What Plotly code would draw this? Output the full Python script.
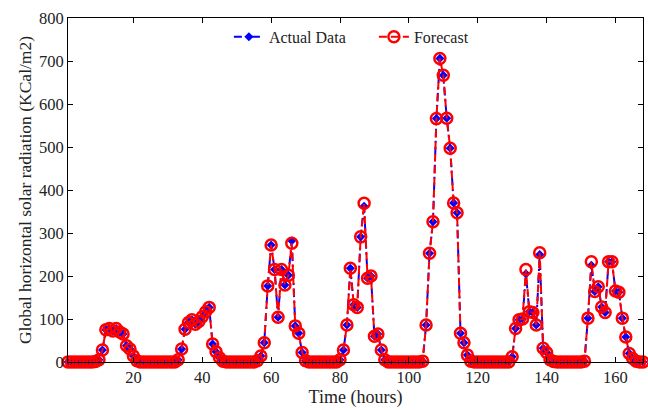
import plotly.graph_objects as go

hours = list(range(1, 169))

actual_day1 = [0, 0, 0, 0, 0, 0, 0, 0, 1, 5, 28, 75, 78, 72, 78, 70, 65, 38, 30, 14, 3, 0, 0, 0]
actual_day2 = [0, 0, 0, 0, 0, 0, 0, 0, 5, 30, 76, 92, 98, 88, 94, 105, 117, 127, 42, 24, 10, 2, 0, 0]
actual_day3 = [0, 0, 0, 0, 0, 0, 0, 3, 14, 45, 177, 272, 215, 104, 215, 179, 202, 282, 84, 67, 22, 3, 0, 0]
actual_day4 = [0, 0, 0, 0, 0, 0, 0, 5, 28, 86, 218, 133, 127, 291, 362, 195, 200, 60, 65, 28, 5, 0, 0, 0]
actual_day5 = [0, 0, 0, 0, 0, 0, 0, 2, 86, 253, 326, 566, 706, 667, 567, 497, 370, 347, 67, 45, 16, 2, 0, 0]
actual_day6 = [0, 0, 0, 0, 0, 0, 0, 0, 0, 12, 78, 98, 100, 205, 117, 115, 86, 250, 32, 22, 5, 1, 0, 0]
actual_day7 = [0, 0, 0, 0, 0, 0, 2, 102, 225, 164, 175, 128, 115, 233, 233, 165, 162, 102, 58, 20, 8, 2, 0, 0]

forecast_day1 = [0, 0, 0, 0, 0, 0, 0, 0, 1, 5, 28, 75, 78, 72, 78, 70, 65, 38, 30, 14, 3, 0, 0, 0]
forecast_day2 = [0, 0, 0, 0, 0, 0, 0, 0, 5, 30, 76, 92, 98, 88, 94, 105, 117, 127, 42, 24, 10, 2, 0, 0]
forecast_day3 = [0, 0, 0, 0, 0, 0, 0, 3, 14, 45, 177, 272, 215, 104, 215, 179, 202, 276, 84, 67, 22, 3, 0, 0]
forecast_day4 = [0, 0, 0, 0, 0, 0, 0, 5, 28, 86, 218, 133, 127, 291, 369, 195, 200, 60, 65, 28, 5, 0, 0, 0]
forecast_day5 = [0, 0, 0, 0, 0, 0, 0, 2, 86, 253, 326, 566, 706, 667, 567, 497, 370, 347, 67, 45, 16, 2, 0, 0]
forecast_day6 = [0, 0, 0, 0, 0, 0, 0, 0, 0, 12, 78, 98, 100, 215, 117, 115, 86, 254, 32, 22, 5, 1, 0, 0]
forecast_day7 = [0, 0, 0, 0, 0, 0, 2, 102, 233, 164, 175, 128, 115, 233, 233, 165, 162, 102, 58, 20, 8, 2, 0, 0]

actual = actual_day1 + actual_day2 + actual_day3 + actual_day4 + actual_day5 + actual_day6 + actual_day7
forecast = forecast_day1 + forecast_day2 + forecast_day3 + forecast_day4 + forecast_day5 + forecast_day6 + forecast_day7

x_ticks = [20, 40, 60, 80, 100, 120, 140, 160]
y_ticks = [0, 100, 200, 300, 400, 500, 600, 700, 800]

FONT = "Liberation Serif, Times New Roman, serif"

fig = go.Figure()
fig.add_trace(go.Scatter(
    x=hours, y=actual, name="Actual Data", mode="lines+markers",
    line=dict(color="#0000ff", width=2, dash="8px,4px,2px,4px"),
    marker=dict(symbol="diamond", size=7, color="#0000ff"),
    cliponaxis=False,
))
fig.add_trace(go.Scatter(
    x=hours, y=forecast, name="Forecast", mode="lines+markers",
    line=dict(color="#ff0000", width=2, dash="8px,4px"),
    marker=dict(symbol="circle-open", size=11, color="#ff0000", line=dict(width=2.5, color="#ff0000")),
    cliponaxis=False,
))

axis_common = dict(
    showline=True, linecolor="black", linewidth=1, mirror="ticks",
    ticks="inside", ticklen=5, tickcolor="black", showgrid=False, zeroline=False,
    tickfont=dict(family=FONT, size=16.5, color="#222222"),
)

fig.update_layout(
    width=648, height=410,
    margin=dict(l=68, r=5, t=18, b=48),
    paper_bgcolor="white", plot_bgcolor="white",
    font=dict(family=FONT, color="#222222"),
    xaxis=dict(range=[1, 168], tickvals=x_ticks,
               title=dict(text="Time (hours)", font=dict(family=FONT, size=18), standoff=4),
               **axis_common),
    yaxis=dict(range=[0, 800], tickvals=y_ticks,
               title=dict(text="Global horizontal solar radiation (KCal/m2)", font=dict(family=FONT, size=17.5), standoff=2),
               **axis_common),
    legend=dict(orientation="h", x=0.532, xanchor="center", y=0.945, yanchor="middle",
                font=dict(family=FONT, size=16, color="#222222"),
                entrywidth=100, entrywidthmode="pixels",
                bgcolor="rgba(0,0,0,0)", borderwidth=0),
    showlegend=True,
)

fig.write_html("out.html", config={"displayModeBar": False},
               post_script="document.body.style.margin='0px';")
